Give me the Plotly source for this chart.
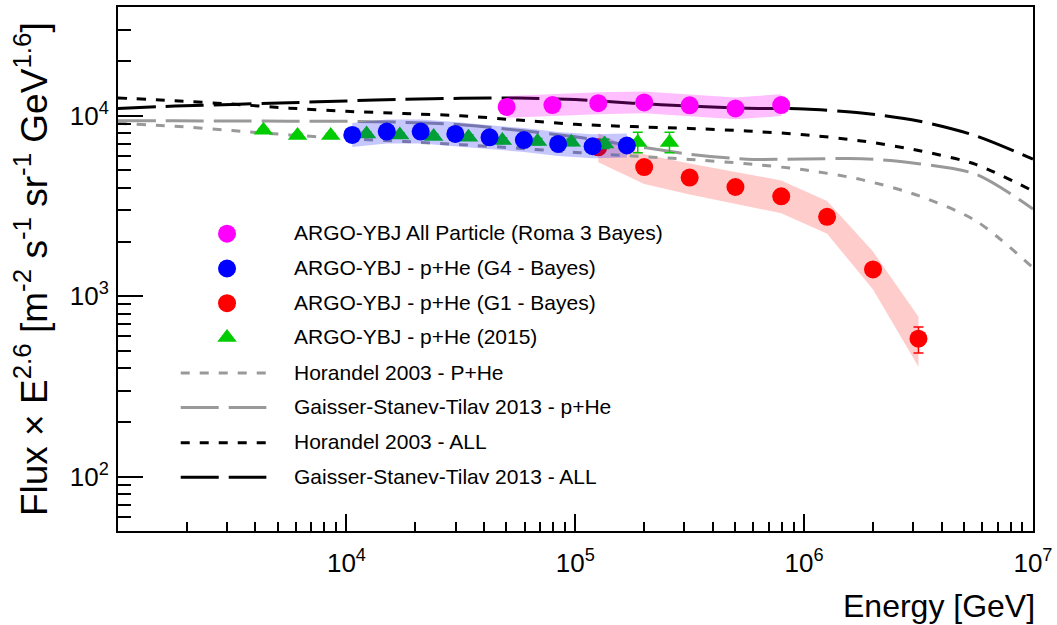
import plotly.graph_objects as go

# ---------------- data ----------------
# ARGO-YBJ all particle (Roma 3 Bayes)
allp_E = [5.01e4, 7.94e4, 1.26e5, 2.00e5, 3.16e5, 5.01e5, 7.94e5]
allp_F = [11180, 11440, 11720, 11840, 11410, 10970, 11440]
allp_lo = [9720, 9950, 10190, 10300, 9920, 9540, 9950]
allp_hi = [12860, 13160, 13480, 13620, 13120, 12620, 13160]

# ARGO-YBJ p+He (G4 - Bayes)
g4_E = [1.06e4, 1.50e4, 2.11e4, 2.99e4, 4.22e4, 5.96e4, 8.41e4, 1.19e5, 1.68e5]
g4_F = [7817, 8163, 8163, 7920, 7590, 7330, 6970, 6770, 6835]
g4_lo = [6710, 7010, 7010, 6800, 6515, 6290, 5980, 5810, 5870]
g4_hi = [9110, 9510, 9510, 9230, 8840, 8540, 8120, 7890, 7960]

# ARGO-YBJ p+He (G1 - Bayes)
g1_E = [1.26e5, 2.00e5, 3.16e5, 5.01e5, 7.94e5, 1.26e6, 2.00e6, 3.16e6]
g1_F = [6680, 5190, 4540, 4025, 3575, 2750, 1406, 581]
g1_lo = [5520, 4180, 3660, 3245, 2880, 2215, 1090, 407]
g1_hi = [7980, 6120, 5425, 4870, 4380, 3370, 1767, 768]
g1_err_plus = [60, 50, 45, 40, 35, 40, 40, 93]
g1_err_minus = [60, 50, 45, 40, 35, 40, 40, 97]

# ARGO-YBJ p+He (2015)
y15_E = [4335, 6110, 8535, 12240, 17100, 24040, 34130, 47980, 68360, 96080, 134300, 187500, 258000]
y15_F = [8297, 7758, 7758, 7915, 7816, 7656, 7590, 7280, 7190, 7125, 6975, 7100, 7100]
y15_err_plus = [200, 200, 200, 220, 220, 230, 250, 260, 280, 300, 420, 990, 990]
y15_err_minus = [200, 200, 200, 220, 220, 230, 250, 260, 280, 300, 400, 875, 875]

# model curves
model_E = [1.0e3, 1.78e3, 3.16e3, 5.62e3, 1.0e4, 1.78e4, 3.16e4, 5.62e4, 1.0e5,
           1.78e5, 3.16e5, 5.62e5, 1.0e6, 1.78e6, 3.16e6, 5.62e6, 1.0e7]
hor_phe = [9068, 8740, 8266, 7825, 7465, 7196, 6911, 6600, 6258, 5978, 5726, 5417, 5010, 4424, 3606, 2619, 1438]
gst_phe = [9385, 9361, 9350, 9326, 9302, 9185, 8898, 8297, 7640, 6815, 6115, 5740, 5754, 5777, 5422, 4745, 3042]
hor_all = [12540, 12100, 11590, 11010, 10575, 10280, 9990, 9455, 8955, 8696, 8500, 8225, 7837, 7244, 6412, 5373, 3824]
gst_all = [10970, 11300, 11540, 11795, 12070, 12315, 12470, 12520, 12285, 11735, 11310, 11000, 10900, 10350, 9337, 7740, 5740]

x_tickvals = [1e4, 1e5, 1e6, 1e7]
x_ticktext = ["10<sup>4</sup>", "10<sup>5</sup>", "10<sup>6</sup>", "10<sup>7</sup>"]
y_tickvals = [1e2, 1e3, 1e4]
y_ticktext = ["10<sup>2</sup>", "10<sup>3</sup>", "10<sup>4</sup>"]

FONT = "Liberation Sans, Arial, Helvetica, sans-serif"
GRAY = "#999999"

# legend entries (label, kind, colour, dash/symbol)
legend_entries = [
    ("ARGO-YBJ All Particle (Roma 3 Bayes)", "marker", "#FF00FF", "circle"),
    ("ARGO-YBJ - p+He (G4 - Bayes)", "marker", "#0000FF", "circle"),
    ("ARGO-YBJ - p+He (G1 - Bayes)", "marker", "#FF0000", "circle"),
    ("ARGO-YBJ - p+He (2015)", "marker", "#00CC00", "triangle-up"),
    ("Horandel 2003 - P+He", "line", GRAY, "9px,10px"),
    ("Gaisser-Stanev-Tilav 2013 - p+He", "line", GRAY, "38px,10px"),
    ("Horandel 2003 - ALL", "line", "black", "9px,10px"),
    ("Gaisser-Stanev-Tilav 2013 - ALL", "line", "black", "38px,10px"),
]


def band(xs, lo, hi, color):
    return go.Scatter(x=list(xs) + list(xs)[::-1], y=list(hi) + list(lo)[::-1],
                      fill="toself", fillcolor=color, line=dict(width=0),
                      mode="lines", showlegend=False, hoverinfo="skip")


fig = go.Figure()

# red band
fig.add_trace(band(g1_E, g1_lo, g1_hi, "rgba(255,0,0,0.2)"))

# model lines
models = [
    ("Horandel 2003 - P+He", hor_phe, GRAY, "9px,10px"),
    ("Gaisser-Stanev-Tilav 2013 - p+He", gst_phe, GRAY, "38px,10px"),
    ("Horandel 2003 - ALL", hor_all, "black", "9px,10px"),
    ("Gaisser-Stanev-Tilav 2013 - ALL", gst_all, "black", "38px,10px"),
]
for name, ys, col, dash in models:
    fig.add_trace(go.Scatter(x=model_E, y=ys, mode="lines", name=name, showlegend=False,
                             line=dict(color=col, width=3, dash=dash, shape="spline", smoothing=0.8)))

# red markers
fig.add_trace(go.Scatter(x=g1_E, y=g1_F, mode="markers", name="ARGO-YBJ - p+He (G1 - Bayes)",
                         showlegend=False,
                         marker=dict(color="#FF0000", size=18, symbol="circle", line=dict(width=0)),
                         error_y=dict(type="data", symmetric=False, array=g1_err_plus,
                                      arrayminus=g1_err_minus, color="#FF0000", thickness=1.5, width=5)))

# green triangles
fig.add_trace(go.Scatter(x=y15_E, y=y15_F, mode="markers", name="ARGO-YBJ - p+He (2015)",
                         showlegend=False,
                         marker=dict(color="#00CC00", size=17, symbol="triangle-up", line=dict(width=0)),
                         error_y=dict(type="data", symmetric=False, array=y15_err_plus,
                                      arrayminus=y15_err_minus, color="#00CC00", thickness=1.5, width=5)))

# blue band + markers
fig.add_trace(band(g4_E, g4_lo, g4_hi, "rgba(0,0,255,0.22)"))
fig.add_trace(go.Scatter(x=g4_E, y=g4_F, mode="markers", name="ARGO-YBJ - p+He (G4 - Bayes)",
                         showlegend=False,
                         marker=dict(color="#0000FF", size=18, symbol="circle", line=dict(width=0))))

# magenta band + markers
fig.add_trace(band(allp_E, allp_lo, allp_hi, "rgba(255,0,255,0.25)"))
fig.add_trace(go.Scatter(x=allp_E, y=allp_F, mode="markers", name="ARGO-YBJ All Particle (Roma 3 Bayes)",
                         showlegend=False,
                         marker=dict(color="#FF00FF", size=18, symbol="circle", line=dict(width=0))))

# ---- in-plot legend (ROOT TLegend style) drawn on an overlay pixel-like frame ----
row_y = [232.5, 267.5, 302.3, 336.8, 372.5, 407.0, 442.3, 477.0]
sym_x0, sym_xc, sym_x1, text_x = 181, 227.5, 267, 293
annotations = []
for (label, kind, col, style), yy in zip(legend_entries, row_y):
    if kind == "marker":
        fig.add_trace(go.Scatter(x=[sym_xc], y=[yy], xaxis="x2", yaxis="y2", mode="markers",
                                 showlegend=False, hoverinfo="skip",
                                 marker=dict(color=col, size=18 if style == "circle" else 17,
                                             symbol=style, line=dict(width=0))))
    else:
        fig.add_trace(go.Scatter(x=[sym_x0, sym_x1], y=[yy, yy], xaxis="x2", yaxis="y2", mode="lines",
                                 showlegend=False, hoverinfo="skip",
                                 line=dict(color=col, width=3, dash=style)))
    annotations.append(dict(text=label, xref="x2", yref="y2", x=text_x, y=yy - 1,
                            xanchor="left", yanchor="middle", showarrow=False,
                            font=dict(family=FONT, size=21, color="black")))

annotations += [
    dict(text="Energy [GeV]", xref="paper", yref="paper", x=1.004, y=-0.143,
         xanchor="right", yanchor="middle", showarrow=False,
         font=dict(family=FONT, size=32, color="black")),
    dict(text="Flux × E<sup>2.6</sup> [m<sup>-2</sup> s<sup>-1</sup> sr<sup>-1</sup> GeV<sup>1.6</sup>]",
         xref="paper", yref="paper", x=-0.095, y=0.5, textangle=-90,
         xanchor="center", yanchor="middle", showarrow=False,
         font=dict(family=FONT, size=37, color="black")),
]

minor_x = [m * 10 ** e for e in range(3, 7) for m in range(2, 10)]
minor_y = [m * 10 ** e for e in range(1, 5) for m in range(2, 10)]

fig.update_layout(
    width=1057, height=625,
    margin=dict(l=118, r=20, t=5, b=94),
    paper_bgcolor="white", plot_bgcolor="white",
    font=dict(family=FONT, color="black"),
    showlegend=False,
    xaxis=dict(type="log", range=[3.0015, 7.0002], showgrid=False, zeroline=False,
               showline=True, linecolor="black", linewidth=2, mirror=True,
               ticks="inside", ticklen=17, tickwidth=1.5, tickcolor="black",
               tickmode="array", tickvals=x_tickvals, ticktext=x_ticktext,
               tickfont=dict(family=FONT, size=26, color="black"), ticklabelstandoff=8,
               minor=dict(tickmode="array", tickvals=minor_x, ticks="inside", ticklen=9,
                          tickwidth=1.5, tickcolor="black")),
    yaxis=dict(type="log", range=[1.69897, 4.60206], showgrid=False, zeroline=False,
               showline=True, linecolor="black", linewidth=2, mirror=True,
               ticks="inside", ticklen=25, tickwidth=1.5, tickcolor="black",
               tickmode="array", tickvals=y_tickvals, ticktext=y_ticktext,
               tickfont=dict(family=FONT, size=26, color="black"), ticklabelstandoff=2,
               minor=dict(tickmode="array", tickvals=minor_y, ticks="inside", ticklen=13,
                          tickwidth=1.5, tickcolor="black")),
    xaxis2=dict(overlaying="x", anchor="y2", range=[118, 1037], visible=False, fixedrange=True),
    yaxis2=dict(overlaying="y", anchor="x2", range=[531, 5], visible=False, fixedrange=True),
    annotations=annotations,
)

fig.write_html("out.html")
